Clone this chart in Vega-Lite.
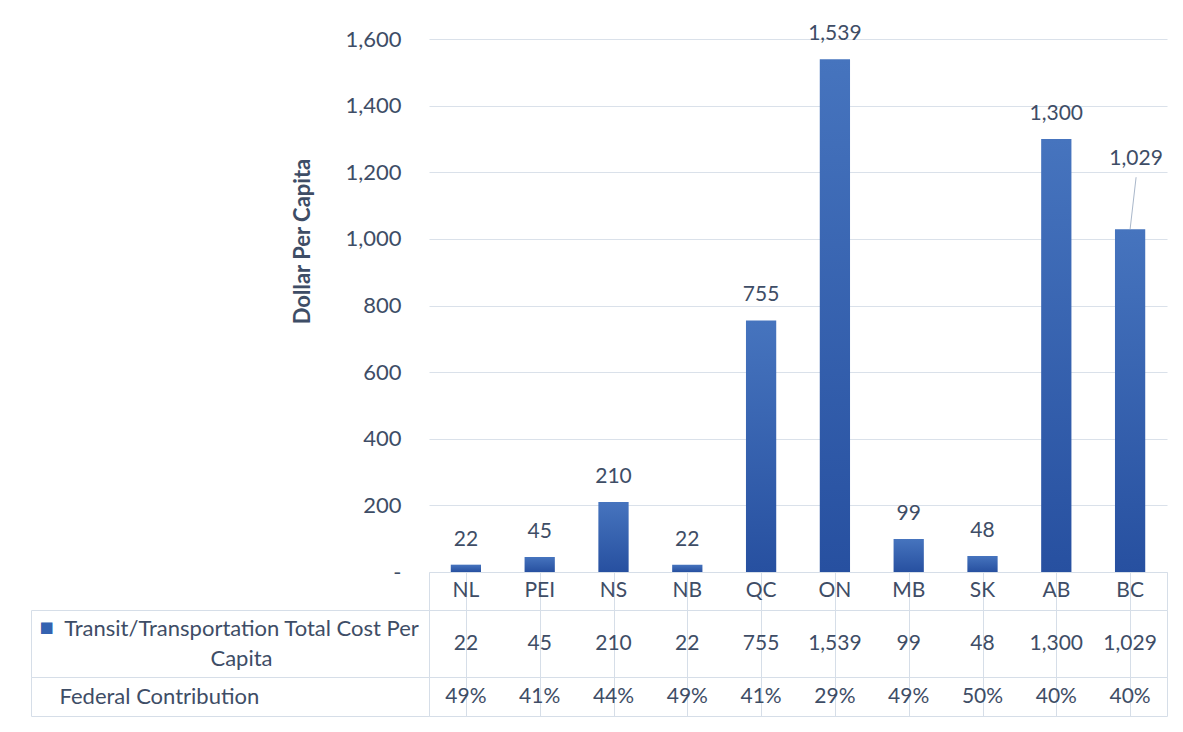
{
  "$schema": "https://vega.github.io/schema/vega-lite/v6.json",
  "background": "white",
  "padding": {"left": 30, "top": 23, "right": 17, "bottom": 10},
  "spacing": 0,
  "bounds": "flush",
  "config": {"font": "Lato", "view": {"stroke": null}},
  "datasets": {
    "prov": [
      {"province": "NL", "cost": 22, "fed": 0.49},
      {"province": "PEI", "cost": 45, "fed": 0.41},
      {"province": "NS", "cost": 210, "fed": 0.44},
      {"province": "NB", "cost": 22, "fed": 0.49},
      {"province": "QC", "cost": 755, "fed": 0.41},
      {"province": "ON", "cost": 1539, "fed": 0.29},
      {"province": "MB", "cost": 99, "fed": 0.49},
      {"province": "SK", "cost": 48, "fed": 0.50},
      {"province": "AB", "cost": 1300, "fed": 0.40},
      {"province": "BC", "cost": 1029, "fed": 0.40}
    ]
  },
  "vconcat": [
    {
      "width": 738,
      "height": 533,
      "data": {"name": "prov"},
      "encoding": {
        "x": {"field": "province", "type": "nominal", "sort": null, "scale": {"paddingInner": 0.59, "paddingOuter": 0.295}, "axis": null},
        "y": {
          "field": "cost", "type": "quantitative",
          "scale": {"domain": [0, 1600], "nice": false},
          "axis": {
            "title": "Dollar Per Capita", "titleFontSize": 22, "titleFontWeight": "bold", "titleColor": "#3E4D66",
            "titlePadding": 30, "titleY": 202,
            "values": [0, 200, 400, 600, 800, 1000, 1200, 1400, 1600],
            "labelExpr": "datum.value == 0 ? '-' : format(datum.value, ',')",
            "labelFontSize": 22, "labelColor": "#3E4D66", "labelPadding": 28,
            "ticks": false, "domain": false, "gridColor": "#DAE1EA", "gridWidth": 1.2
          }
        }
      },
      "layer": [
        {
          "mark": {
            "type": "bar",
            "color": {"gradient": "linear", "x1": 0, "y1": 0, "x2": 0, "y2": 1,
              "stops": [{"offset": 0, "color": "#4674BE"}, {"offset": 1, "color": "#2750A0"}]}
          }
        },
        {
          "transform": [{"filter": "datum.province != 'BC'"}],
          "mark": {"type": "text", "dy": -25, "fontSize": 21, "color": "#3E4D66"},
          "encoding": {"text": {"field": "cost", "format": ","}}
        },
        {
          "transform": [{"filter": "datum.province == 'BC'"}],
          "mark": {"type": "text", "dy": -70, "dx": 6, "fontSize": 21, "color": "#3E4D66"},
          "encoding": {"text": {"field": "cost", "format": ","}}
        },
        {
          "transform": [{"filter": "datum.province == 'BC'"}],
          "mark": {"type": "rule", "color": "#A9B7CA", "strokeWidth": 1, "x2Offset": 6, "y2Offset": -52},
          "encoding": {"x2": {"field": "province"}, "y2": {"field": "cost"}}
        }
      ]
    },
    {
      "width": 738,
      "height": 38,
      "data": {"name": "prov"},
      "view": {"stroke": "#D6DEE8"},
      "mark": {"type": "text", "fontSize": 21, "color": "#3E4D66"},
      "encoding": {
        "x": {"field": "province", "type": "nominal", "sort": null, "scale": {"paddingInner": 0, "paddingOuter": 0},
          "axis": {"title": null, "labels": false, "ticks": false, "domain": false, "grid": true, "bandPosition": 0, "gridColor": "#D6DEE8", "orient": "top"}},
        "text": {"field": "province"}
      }
    },
    {
      "width": 738,
      "height": 67,
      "data": {"name": "prov"},
      "view": {"stroke": "#D6DEE8"},
      "layer": [
        {
          "mark": {"type": "text", "fontSize": 21, "color": "#3E4D66"},
          "encoding": {
            "x": {"field": "province", "type": "nominal", "sort": null, "scale": {"paddingInner": 0, "paddingOuter": 0},
              "axis": {"title": null, "labels": false, "ticks": false, "domain": false, "grid": true, "bandPosition": 0, "gridColor": "#D6DEE8", "orient": "top"}},
            "y": {"datum": "Transit/Transportation Total Cost Per|Capita", "type": "nominal",
              "scale": {"type": "band", "paddingInner": 0, "paddingOuter": 0},
              "axis": {"title": null, "labelExpr": "split(datum.label, '|')", "labelAlign": "center", "labelBaseline": "middle",
                "labelPadding": -210, "labelOffset": -15, "tickSize": 398, "tickBand": "extent", "tickColor": "#D6DEE8", "domainColor": "#D6DEE8",
                "labelFontSize": 22, "labelColor": "#3E4D66", "labelLineHeight": 30, "labelLimit": 1000}},
            "text": {"field": "cost", "format": ","}
          }
        },
        {
          "mark": {"type": "text", "text": ""},
          "encoding": {
            "y": {"datum": "■", "type": "nominal",
              "scale": {"type": "band", "paddingInner": 0, "paddingOuter": 0},
              "axis": {"orient": "left", "offset": 398, "title": null, "ticks": false, "domainColor": "#D6DEE8",
                "labelAlign": "left", "labelBaseline": "middle", "labelPadding": -8, "labelOffset": -17,
                "labelColor": "#3462B0", "labelFontSize": 15, "labelFont": "DejaVu Sans"}}
          }
        }
      ],
      "resolve": {"scale": {"y": "independent"}, "axis": {"y": "independent"}}
    },
    {
      "width": 738,
      "height": 39,
      "data": {"name": "prov"},
      "view": {"stroke": "#D6DEE8"},
      "layer": [
        {
          "mark": {"type": "text", "fontSize": 21, "color": "#3E4D66"},
          "encoding": {
            "x": {"field": "province", "type": "nominal", "sort": null, "scale": {"paddingInner": 0, "paddingOuter": 0},
              "axis": {"title": null, "labels": false, "ticks": false, "domain": false, "grid": true, "bandPosition": 0, "gridColor": "#D6DEE8", "orient": "top"}},
            "y": {"datum": "Federal Contribution", "type": "nominal",
              "scale": {"type": "band", "paddingInner": 0, "paddingOuter": 0},
              "axis": {"title": null, "labelAlign": "left", "labelBaseline": "middle",
                "labelPadding": -28, "tickSize": 398, "tickBand": "extent", "tickColor": "#D6DEE8", "domainColor": "#D6DEE8",
                "labelFontSize": 22, "labelColor": "#3E4D66", "labelLimit": 1000}},
            "text": {"field": "fed", "format": ".0%"}
          }
        },
        {
          "mark": {"type": "text", "text": ""},
          "encoding": {
            "y": {"datum": "edge", "type": "nominal",
              "scale": {"type": "band", "paddingInner": 0, "paddingOuter": 0},
              "axis": {"orient": "left", "offset": 398, "title": null, "ticks": false, "labels": false, "domainColor": "#D6DEE8"}}
          }
        }
      ],
      "resolve": {"scale": {"y": "independent"}, "axis": {"y": "independent"}}
    }
  ]
}
